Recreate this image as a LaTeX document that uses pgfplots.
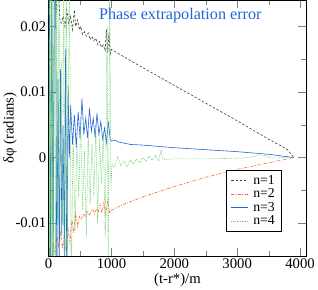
\documentclass[border=0pt]{standalone}
\usepackage{fontspec}
\setmainfont{Liberation Serif}
\usepackage{pgfplots}
\pgfplotsset{compat=1.18}
\definecolor{c1}{RGB}{60,60,60}
\definecolor{c2}{RGB}{255,95,45}
\definecolor{c3}{RGB}{30,100,220}
\definecolor{c4}{RGB}{100,205,100}
\definecolor{ttl}{RGB}{35,100,220}
\begin{document}
\begin{tikzpicture}
\begin{axis}[
  scale only axis, width=262bp, height=260bp,
  xmin=0, xmax=4100, ymin=-0.015, ymax=0.024,
  xtick={0,1000,2000,3000,4000},
  ytick={-0.01,0,0.01,0.02},
  minor x tick num=1, minor y tick num=1,
  tick align=inside,
  xtick pos=both, ytick pos=both,
  major tick length=8bp, minor tick length=5bp,
  scaled y ticks=false, scaled x ticks=false,
  yticklabel style={/pgf/number format/fixed, /pgf/number format/precision=2},
  /pgf/number format/assume math mode=true,
  tick label style={font=\fontsize{15}{17}\selectfont},
  xticklabel style={/pgf/number format/1000 sep={}, yshift=1bp},
  yticklabel style={xshift=1bp},
  xlabel={(t-r*)/m}, ylabel={δφ (radians)},
  label style={font=\fontsize{15}{17}\selectfont},
  xlabel style={yshift=2bp},
  ylabel style={yshift=-8bp},
  legend style={at={(0.905,0.096)}, anchor=south east, font=\fontsize{14}{14}\selectfont, draw=black, row sep=-1pt, inner xsep=5bp, inner ysep=3bp,
    /tikz/every odd column/.append style={column sep=3bp}},
  legend cell align=left,
  clip=true,
]
\addplot[c1, line width=0.6pt, dash pattern=on 2.5pt off 1.8pt] coordinates {
(20,0.03)(40,0.026)(60,0.031)(80,0.025)(100,0.028)(120,0.022)(150,0.027)(180,0.021)(200,0.0205)(230,0.0215)(260,0.020)(290,0.0225)(320,0.0205)(350,0.0215)(380,0.0195)(410,0.0225)(430,0.020)(460,0.021)(490,0.0195)(510,0.020)(540,0.0188)(570,0.0192)(600,0.0185)(630,0.0190)(660,0.018)(690,0.0185)(720,0.0178)(750,0.0182)(780,0.0172)(810,0.0177)(840,0.0168)(870,0.0172)(900,0.0163)(920,0.0195)(940,0.016)(960,0.019)(980,0.0158)(1000,0.0165)(1100,0.0159)(1500,0.0137)(2000,0.0110)(2500,0.0083)(3000,0.0056)(3500,0.0028)(3750,0.0015)(3800,0.0012)(3850,0.0006)(3900,0.0)
};
\addlegendentry{n=1}
\addplot[c2, line width=0.6pt, dash pattern=on 3pt off 1.5pt on 0.8pt off 1.5pt] coordinates {
(20,-0.02)(50,-0.016)(80,-0.013)(100,-0.0145)(130,-0.012)(160,-0.0135)(190,-0.0115)(220,-0.0138)(250,-0.012)(280,-0.0145)(310,-0.011)(340,-0.013)(370,-0.0095)(400,-0.0115)(430,-0.0085)(460,-0.0105)(490,-0.009)(520,-0.0095)(550,-0.0085)(580,-0.009)(610,-0.0082)(640,-0.0088)(670,-0.0084)(700,-0.0079)(730,-0.0086)(760,-0.0078)(790,-0.0083)(820,-0.0072)(850,-0.0085)(880,-0.0068)(910,-0.0088)(940,-0.0065)(970,-0.0085)(1000,-0.0080)(1200,-0.0071)(1500,-0.006)(2000,-0.0044)(2500,-0.003)(3000,-0.0018)(3500,-0.0008)(3900,0)
};
\addlegendentry{n=2}
\addplot[c3, line width=0.6pt] coordinates {
(10,0.03)(30,-0.02)(50,0.028)(70,-0.018)(90,0.025)(110,0.03)(130,-0.02)(150,0.012)(170,-0.016)(190,0.0135)(210,-0.012)(230,0.005)(250,-0.015)(270,0.0165)(290,-0.02)(310,0.011)(330,0.0)(350,0.008)(380,0.002)(410,0.0065)(440,0.0015)(470,0.007)(500,0.003)(530,0.009)(560,0.0035)(590,0.006)(620,0.003)(650,0.0075)(680,0.004)(710,0.006)(740,0.003)(770,0.0068)(800,0.0035)(830,0.0055)(860,0.0028)(890,0.0045)(920,0.0022)(950,0.0055)(980,0.0028)(1000,0.0025)(1050,0.0027)(1100,0.0024)(1200,0.0022)(1300,0.002)(1500,0.0019)(2000,0.0015)(2500,0.0012)(3000,0.0009)(3500,0.0005)(3900,0.0)
};
\addlegendentry{n=3}
\addplot[c4, line width=0.6pt, dash pattern=on 0.8pt off 1pt] coordinates {
(5,0.03)(15,-0.02)(25,0.03)(35,-0.02)(45,0.03)(55,-0.02)(65,0.03)(75,-0.02)(90,0.03)(110,-0.02)(130,0.03)(150,-0.02)(165,0.03)(180,-0.012)(200,0.015)(220,-0.01)(240,0.03)(260,-0.02)(280,0.03)(300,-0.014)(330,0.03)(360,-0.02)(390,0.004)(420,-0.011)(450,0.002)(480,-0.006)(510,0.006)(540,-0.008)(570,0.001)(600,-0.012)(630,0.004)(660,-0.007)(690,0.002)(720,-0.006)(750,0.005)(780,-0.01)(810,0.003)(840,-0.004)(870,0.004)(900,-0.012)(930,0.02)(950,-0.02)(970,0.03)(990,-0.005)(1010,-0.001)(1050,-0.0015)(1100,0.0002)(1150,-0.0012)(1200,-0.0005)(1250,-0.0014)(1300,-0.0004)(1350,-0.001)(1400,-0.0002)(1450,-0.0008)(1500,0.0)(1550,-0.0006)(1600,0.0002)(1650,-0.0004)(1700,0.0003)(1750,-0.0005)(1790,0.0012)(1810,-0.0001)(1850,-0.0003)(2000,-0.0002)(2500,-0.0002)(3000,-0.0001)(3200,0.0)(3350,0.0004)(3450,0.0003)(3550,-0.0001)(3700,0.0)(3900,0.0)
};
\addlegendentry{n=4}
\node[text=ttl, font=\fontsize{16.5}{18}\selectfont] at (rel axis cs:0.511,0.94) {Phase extrapolation error};
\end{axis}
\end{tikzpicture}
\end{document}
